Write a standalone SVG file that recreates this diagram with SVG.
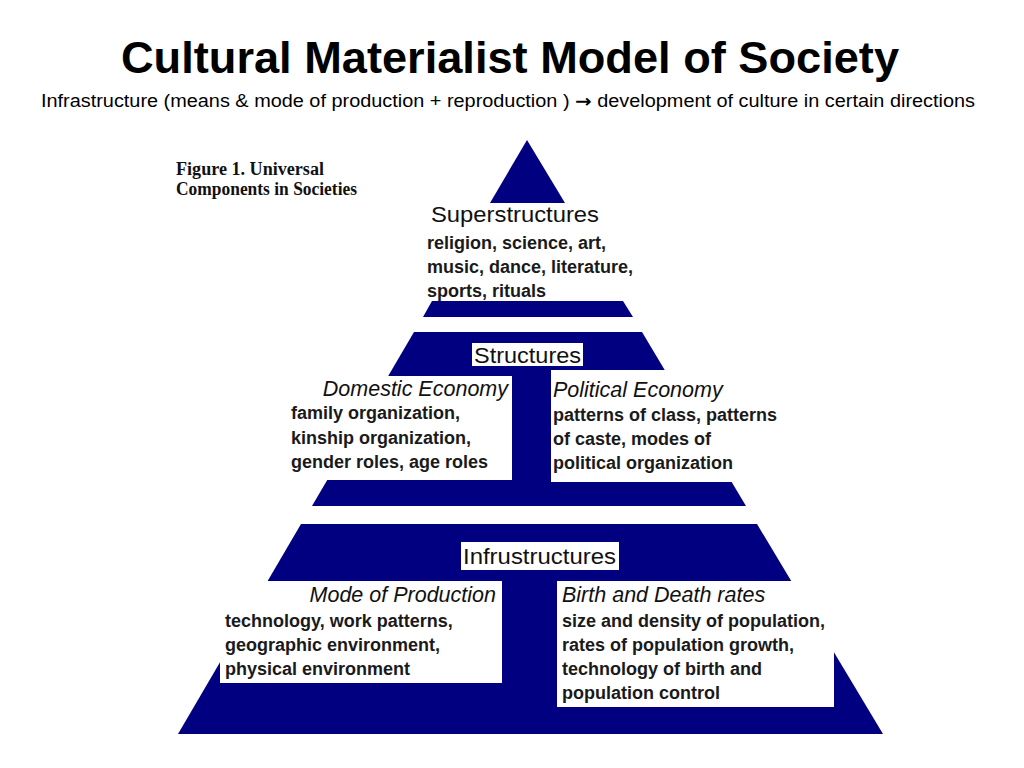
<svg xmlns="http://www.w3.org/2000/svg" width="1024" height="768" viewBox="0 0 1024 768">
<style>
.band{fill:#000080}
.box{fill:#ffffff}
.title{font-family:"Liberation Sans",Arial,sans-serif;font-weight:bold;font-size:44px;fill:#000}
.sub{font-family:"Liberation Sans",Arial,sans-serif;font-size:17.5px;fill:#000}
.arrow{font-family:"DejaVu Sans",sans-serif;font-weight:bold}
.cap{font-family:"Liberation Serif","Times New Roman",serif;font-weight:bold;font-size:18px;fill:#111}
.head{font-family:"Liberation Sans",Arial,sans-serif;font-size:22px;fill:#111}
.ital{font-family:"Liberation Sans",Arial,sans-serif;font-style:italic;font-size:21.5px;fill:#111}
.body{font-family:"Liberation Sans",Arial,sans-serif;font-weight:bold;font-size:18px;fill:#1a1a1a}
</style>
<rect width="1024" height="768" fill="#ffffff"/>
<g id="title">
<text class="title" x="121" y="73" textLength="778" lengthAdjust="spacingAndGlyphs">Cultural Materialist Model of Society</text>
<text class="sub" x="41" y="107" textLength="934" lengthAdjust="spacingAndGlyphs">Infrastructure (means &amp; mode of production + reproduction ) <tspan class="arrow">→</tspan> development of culture in certain directions</text>
</g>
<g id="figure-caption">
<text class="cap" x="176" y="175" textLength="148" lengthAdjust="spacingAndGlyphs">Figure 1. Universal</text>
<text class="cap" x="176" y="195" textLength="181" lengthAdjust="spacingAndGlyphs">Components in Societies</text>
</g>
<g id="superstructures">
<polygon class="band" points="527,140 490,203 565,203"/>
<polygon class="band" points="432,301 623,301 633,317 423,317"/>
<text class="head" x="431" y="222" textLength="168" lengthAdjust="spacingAndGlyphs">Superstructures</text>
<text class="body" x="427" y="249">religion, science, art,</text>
<text class="body" x="427" y="273">music, dance, literature,</text>
<text class="body" x="427" y="297">sports, rituals</text>
</g>
<g id="structures">
<polygon class="band" points="414,332 642,332 746,506 312,506"/>
<rect class="box" x="285" y="376" width="227" height="104"/>
<rect class="box" x="551" y="370" width="234" height="112"/>
<rect class="box" x="472" y="343" width="111" height="23"/>
<text class="head" x="474" y="363" textLength="107" lengthAdjust="spacingAndGlyphs">Structures</text>
<text class="ital" x="508" y="396" text-anchor="end">Domestic Economy</text>
<text class="body" x="291" y="419">family organization,</text>
<text class="body" x="291" y="444">kinship organization,</text>
<text class="body" x="291" y="468">gender roles, age roles</text>
<text class="ital" x="553" y="397">Political Economy</text>
<text class="body" x="553" y="421">patterns of class, patterns</text>
<text class="body" x="553" y="445">of caste, modes of</text>
<text class="body" x="553" y="469">political organization</text>
</g>
<g id="infrastructures">
<polygon class="band" points="301,524 757,524 883,734 178,734"/>
<rect class="box" x="220" y="581" width="282" height="102"/>
<rect class="box" x="557" y="581" width="277" height="126"/>
<rect class="box" x="461" y="542" width="158" height="28"/>
<text class="head" x="463" y="564" textLength="153" lengthAdjust="spacingAndGlyphs">Infrustructures</text>
<text class="ital" x="496" y="602" text-anchor="end" font-size="22">Mode of Production</text>
<text class="body" x="225" y="627">technology, work patterns,</text>
<text class="body" x="225" y="651">geographic environment,</text>
<text class="body" x="225" y="675">physical environment</text>
<text class="ital" x="562" y="602" font-size="22">Birth and Death rates</text>
<text class="body" x="562" y="627">size and density of population,</text>
<text class="body" x="562" y="651">rates of population growth,</text>
<text class="body" x="562" y="675">technology of birth and</text>
<text class="body" x="562" y="699">population control</text>
</g>
<g id="connectors"/>
</svg>
